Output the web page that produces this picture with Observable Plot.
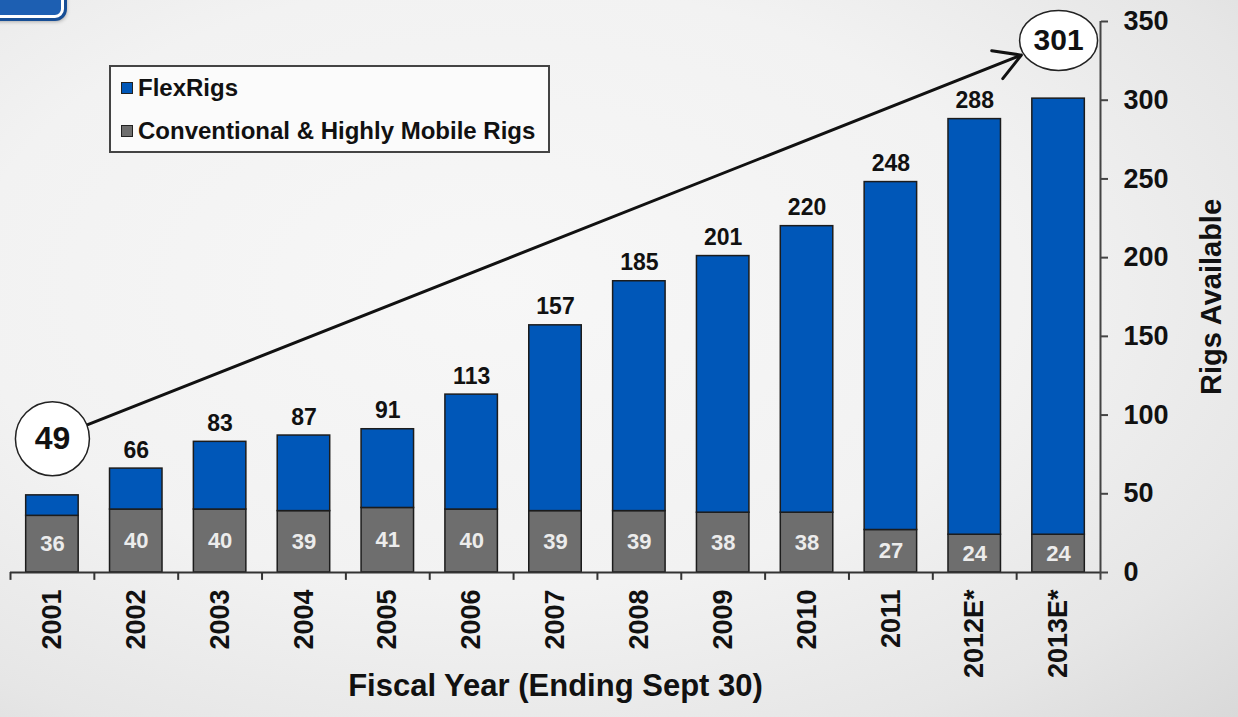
<!DOCTYPE html>
<html><head><meta charset="utf-8">
<script src="https://cdn.jsdelivr.net/npm/d3@7"></script>
<script src="https://cdn.jsdelivr.net/npm/@observablehq/plot@0.6"></script>
<style>
html,body{margin:0;padding:0;}
body{width:1238px;height:717px;overflow:hidden;font-family:"Liberation Sans",Arial,sans-serif;
 background: radial-gradient(ellipse at 40% 40%, #f7f7f7 0%, #f2f2f2 50%, #e6e6e6 80%, #d9d9d9 100%);}
#wrap{position:relative;width:1238px;height:717px;}
#chart svg{display:block;background:transparent;}
#legend{position:absolute;left:109px;top:65px;width:441px;height:88px;box-sizing:border-box;border:2px solid #444;background:#fbfbfb;font-weight:bold;font-size:24px;color:#111;}
#legend .item{position:absolute;left:10px;height:28px;display:flex;align-items:center;white-space:nowrap;}
#legend .sw{width:10px;height:10px;border:1.5px solid #222;margin-right:5px;}
#badge{position:absolute;left:-14px;top:-32px;width:72px;height:44px;border-radius:9px;background:#1d5fb2;border:3px solid #fff;box-shadow:0 0 0 3px #174e95, 2px 3px 4px rgba(0,0,0,0.4);}
</style></head>
<body><div id="wrap"><div id="badge"></div><div id="chart"></div><div id="legend"></div></div>
<script>
const years = ["2001","2002","2003","2004","2005","2006","2007","2008","2009","2010","2011","2012E*","2013E*"];
const totals = [49,66,83,87,91,113,157,185,201,220,248,288,301];
const conventional = [36,40,40,39,41,40,39,39,38,38,27,24,24];
const flexRigs = [13,26,43,48,50,73,118,146,163,182,221,264,277];
const yTicks = [0,50,100,150,200,250,300,350];
const seriesNames = ["FlexRigs","Conventional & Highly Mobile Rigs"];
const seriesColors = ["#0057b8","#6e6e6e"];
const xTitle = "Fiscal Year (Ending Sept 30)";
const yTitle = "Rigs Available";
const startCallout = {year:"2001", label:"49"};
const endCallout = {year:"2013E*", label:"301"};

const W = 1238, H = 717, mL = 10, mR = 138, mT = 21, mB = 145;
const step = (W - mL - mR) / years.length;
const calloutStartY = 85, calloutEndY = 338;

const rows = years.flatMap((y, i) => [
  {year: y, series: seriesNames[1], value: conventional[i]},
  {year: y, series: seriesNames[0], value: flexRigs[i]}
]);
const idx = years.map((_, i) => i);
const labelIdx = idx.slice(1, idx.length - 1);

const ellipse = {
  draw(ctx) {
    const rx = 39, ry = 30, k = 0.5523;
    ctx.moveTo(rx, 0);
    ctx.bezierCurveTo(rx, ry * k, rx * k, ry, 0, ry);
    ctx.bezierCurveTo(-rx * k, ry, -rx, ry * k, -rx, 0);
    ctx.bezierCurveTo(-rx, -ry * k, -rx * k, -ry, 0, -ry);
    ctx.bezierCurveTo(rx * k, -ry, rx, -ry * k, rx, 0);
    ctx.closePath();
  }
};

const chart = Plot.plot({
  width: W, height: H,
  marginLeft: mL, marginRight: mR, marginTop: mT, marginBottom: mB,
  style: {fontFamily: "'Liberation Sans', Arial, sans-serif", background: "transparent", color: "#111"},
  x: {type: "band", domain: years, paddingInner: 0.374, paddingOuter: 0.187, round: false, axis: null},
  y: {domain: [0, 350], axis: null},
  color: {domain: seriesNames, range: seriesColors},
  marks: [
    Plot.barY(rows, {x: "year", y: "value", fill: "series", stroke: "#1c1c1c", strokeWidth: 1.5}),
    Plot.ruleY([0], {stroke: "#333", strokeWidth: 2}),
    Plot.ruleX(years, {x: d => d, y1: 0, y2: -5, dx: -step / 2, stroke: "#333", strokeWidth: 2}),
    Plot.ruleX([years[years.length - 1]], {x: d => d, y1: -5, y2: 350, dx: step / 2, stroke: "#444", strokeWidth: 2}),
    Plot.axisX({tickSize: 0, tickPadding: 17, tickRotate: -90, fontSize: 27, fontWeight: "bold", label: null}),
    Plot.axisY({anchor: "right", ticks: yTicks, tickSize: 7, tickPadding: 16, fontSize: 27, fontWeight: "bold", label: null, stroke: "#444", strokeWidth: 2}),
    Plot.text(labelIdx, {x: i => years[i], y: i => totals[i], text: i => String(totals[i]), lineAnchor: "bottom", dy: -11, fontSize: 23, fontWeight: "bold", fill: "#111"}),
    Plot.text(idx, {x: i => years[i], y: i => conventional[i] / 2, text: i => String(conventional[i]), fontSize: 22, fontWeight: "bold", fill: "#ececec"}),
    Plot.arrow([0], {x1: () => startCallout.year, y1: () => calloutStartY, x2: () => endCallout.year, y2: () => calloutEndY,
      insetStart: 38, insetEnd: 40, headLength: 15, strokeWidth: 3, stroke: "#111", bend: 0}),
    Plot.dot([startCallout], {x: "year", y: () => calloutStartY, r: 37, fill: "#fff", stroke: "#222", strokeWidth: 1.5}),
    Plot.text([startCallout], {x: "year", y: () => calloutStartY, text: "label", fontSize: 32, fontWeight: "bold", fill: "#111"}),
    Plot.dot([endCallout], {x: "year", y: () => calloutEndY, symbol: ellipse, fill: "#fff", stroke: "#222", strokeWidth: 1.5}),
    Plot.text([endCallout], {x: "year", y: () => calloutEndY, text: "label", fontSize: 30, fontWeight: "bold", fill: "#111"}),
    Plot.text([yTitle], {frameAnchor: "right", textAnchor: "middle", dx: 111, rotate: -90, fontSize: 29, fontWeight: "bold", fill: "#111"}),
    Plot.text([xTitle], {frameAnchor: "bottom", textAnchor: "middle", dy: 123, fontSize: 31, fontWeight: "bold", fill: "#111"})
  ]
});
document.getElementById("chart").appendChild(chart);

const legend = document.getElementById("legend");
seriesNames.forEach((name, i) => {
  const item = document.createElement("div");
  item.className = "item";
  item.style.top = (i === 0 ? 7 : 50) + "px";
  const sw = document.createElement("span");
  sw.className = "sw";
  sw.style.background = seriesColors[i];
  item.appendChild(sw);
  item.appendChild(document.createTextNode(name));
  legend.appendChild(item);
});
</script>
</body></html>
